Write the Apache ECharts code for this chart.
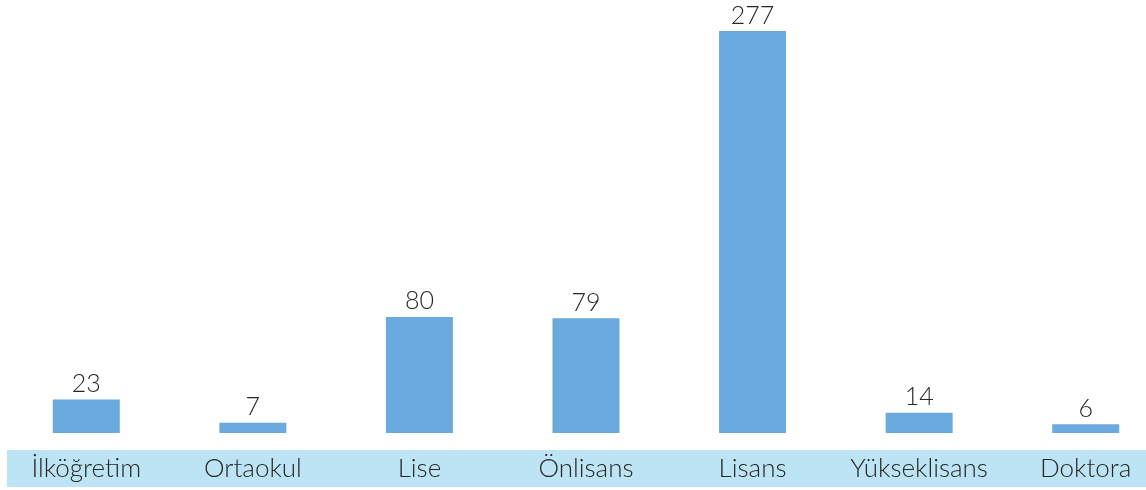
<!DOCTYPE html>
<html>
<head>
<meta charset="utf-8">
<script src="https://cdn.jsdelivr.net/npm/echarts@6/dist/echarts.min.js"></script>
<style>
  html, body { margin: 0; padding: 0; background: #fff; overflow: hidden; }
  #chart { width: 1172px; height: 490px; }
</style>
</head>
<body>
<div id="chart"></div>
<script>
// egitim durumu
var categories = ['İlköğretim', 'Ortaokul', 'Lise', 'Önlisans', 'Lisans', 'Yükseklisans', 'Doktora'];
var counts = [23, 7, 80, 79, 277, 14, 6];

var myChart = echarts.init(document.getElementById('chart'));
myChart.setOption({
  animation: false,
  grid: { left: 3, top: 31, right: 3, bottom: 57 },
  graphic: [{
    type: 'rect',
    z: -1,
    shape: { x: 7, y: 450, width: 1165, height: 37 },
    style: { fill: '#bde4f4' }
  }],
  xAxis: {
    type: 'category',
    data: categories,
    axisLine: { show: false },
    axisTick: { show: false },
    axisLabel: {
      interval: 0,
      margin: 36,
      verticalAlign: 'middle',
      fontFamily: 'Lato',
      fontWeight: 300,
      fontSize: 26,
      color: '#262626'
    }
  },
  yAxis: {
    type: 'value',
    min: 0,
    max: 277,
    show: false
  },
  series: [{
    type: 'bar',
    data: counts,
    barWidth: 67,
    itemStyle: { color: '#6aaade' },
    label: {
      show: true,
      position: 'top',
      distance: 3,
      fontFamily: 'Lato',
      fontWeight: 300,
      fontSize: 25,
      color: '#262626'
    }
  }]
});
</script>
</body>
</html>
